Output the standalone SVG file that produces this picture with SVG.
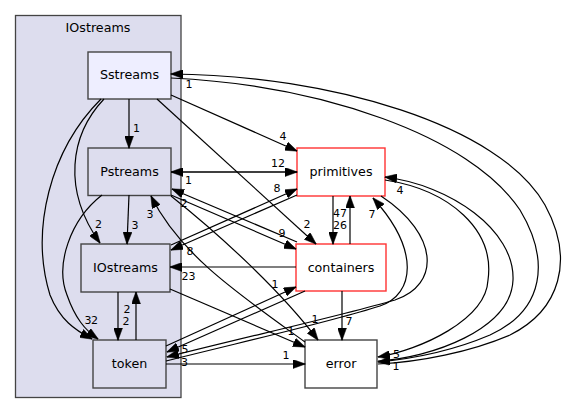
<svg xmlns="http://www.w3.org/2000/svg" width="563" height="415" viewBox="0 0 563 415">
<style>
text{font-family:"DejaVu Sans","Liberation Sans",sans-serif;fill:#000}
.nl{font-size:12.7px;text-anchor:middle}
.el{font-size:11px;text-anchor:middle}
.clu{fill:#ddddee;stroke:#444;stroke-width:1.3}
.n{stroke:#444;stroke-width:1.4}
.in{fill:#ddddee}
.hl{fill:#eeeeff}
.ext{fill:#fff;stroke:#ff3333;stroke-width:1.4}
.wh{fill:#fff}
#edges path{fill:none;stroke:#000;stroke-width:1.2;marker-end:url(#ah)}
</style>
<defs>
<marker id="ah" markerUnits="userSpaceOnUse" viewBox="0 0 12.5 9" markerWidth="12.5" markerHeight="9" refX="12" refY="4.5" orient="auto">
<path d="M0,0 L12.5,4.5 L0,9 z" fill="#000" stroke="#000" stroke-width="0.5"/>
</marker>
</defs>
<rect width="563" height="415" fill="#fff"/>
<g id="cluster_IOstreams">
<rect class="clu" x="15.5" y="15.5" width="165.5" height="382"/>
<text class="nl" x="98" y="32">IOstreams</text>
</g>
<g id="node_Sstreams">
<rect class="n hl" x="88" y="52" width="83" height="47"/>
<text class="nl" x="129.5" y="79">Sstreams</text>
</g>
<g id="node_Pstreams">
<rect class="n in" x="88" y="148" width="83" height="47.5"/>
<text class="nl" x="129.5" y="175.5">Pstreams</text>
</g>
<g id="node_IOstreams">
<rect class="n in" x="81" y="244" width="89" height="48"/>
<text class="nl" x="125.5" y="272">IOstreams</text>
</g>
<g id="node_token">
<rect class="n in" x="93" y="340" width="73" height="48"/>
<text class="nl" x="129.5" y="368">token</text>
</g>
<g id="node_primitives">
<rect class="ext" x="297" y="148" width="88" height="48"/>
<text class="nl" x="341" y="176">primitives</text>
</g>
<g id="node_containers">
<rect class="ext" x="296" y="244" width="90" height="47"/>
<text class="nl" x="341" y="271.5">containers</text>
</g>
<g id="node_error">
<rect class="n wh" x="305" y="340" width="72" height="48"/>
<text class="nl" x="341" y="368">error</text>
</g>
<g id="edges">
<path d="M129,99 L129,148"/>
<path d="M104,99 C70,135 62,190 100,243"/>
<path d="M101,99 C50,150 30,230 50,295 C60,320 75,330 92,339"/>
<path d="M171,95 L297,151"/>
<path d="M157,99 L316,244"/>
<path d="M378,364 C420,362 470,352 510,335 C560,310 575,260 545,205 C500,125 330,75 171,74"/>
<path d="M171,78 C320,85 470,135 520,210 C550,260 545,310 490,335 C450,352 410,359 378,362"/>
<path d="M129,195 L127,244"/>
<path d="M102,195 C70,220 55,265 67,295 C75,318 85,330 98,339"/>
<path d="M171,172 L297,172"/>
<path d="M297,172 L171,172"/>
<path d="M171,195 L296,249"/>
<path d="M297,242 L172,189"/>
<path d="M171,196 C220,235 280,290 318,340"/>
<path d="M305,342 C240,295 180,255 151,196"/>
<path d="M171,245 L297,189"/>
<path d="M297,195 L171,250"/>
<path d="M118,292 L118,340"/>
<path d="M136,340 L136,292"/>
<path d="M170,289 L305,347"/>
<path d="M296,267 L170,267"/>
<path d="M333,196 L333,244"/>
<path d="M350,244 L350,196"/>
<path d="M342,291 L342,340"/>
<path d="M305,291 L167,352"/>
<path d="M166,346 L296,287"/>
<path d="M166,364 L305,364"/>
<path d="M166,361 C250,340 330,322 380,306 C415,294 420,250 373,198"/>
<path d="M381,196 C440,235 440,285 395,300 C340,316 250,336 167,357"/>
<path d="M385,180 C450,190 495,230 488,280 C486,320 420,350 378,357"/>
<path d="M378,361 C430,358 511,330 513,280 C515,230 450,185 385,177"/>
</g>
<g id="labels">
<text class="el" x="136.5" y="132">1</text>
<text class="el" x="98.5" y="228">2</text>
<text class="el" x="88" y="324">3</text>
<text class="el" x="283" y="140">4</text>
<text class="el" x="307" y="228">2</text>
<text class="el" x="189" y="88">1</text>
<text class="el" x="396" y="370">1</text>
<text class="el" x="135" y="229">3</text>
<text class="el" x="94.5" y="324">2</text>
<text class="el" x="278" y="167">12</text>
<text class="el" x="188.5" y="184">1</text>
<text class="el" x="282" y="237">9</text>
<text class="el" x="184" y="207">2</text>
<text class="el" x="315" y="323">1</text>
<text class="el" x="150" y="218">3</text>
<text class="el" x="277" y="192">8</text>
<text class="el" x="190" y="255">8</text>
<text class="el" x="127" y="313">2</text>
<text class="el" x="126" y="324.5">2</text>
<text class="el" x="291" y="335">1</text>
<text class="el" x="188.5" y="280">23</text>
<text class="el" x="340" y="217">47</text>
<text class="el" x="340" y="229">26</text>
<text class="el" x="349" y="325">7</text>
<text class="el" x="185" y="353">5</text>
<text class="el" x="275" y="288">1</text>
<text class="el" x="286" y="359">1</text>
<text class="el" x="372" y="218">7</text>
<text class="el" x="184.5" y="365.5">3</text>
<text class="el" x="396.5" y="358">5</text>
<text class="el" x="400" y="194">4</text>
</g>
</svg>
